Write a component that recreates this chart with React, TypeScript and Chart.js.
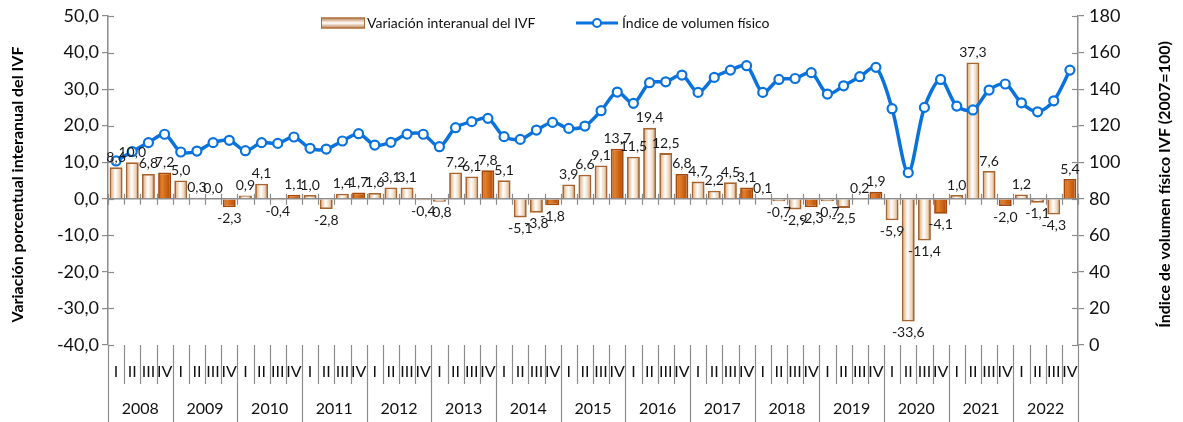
import React, { useEffect, useRef } from "react";
import { Chart, registerables } from "chart.js";

Chart.register(...registerables);

const years = ["2008", "2009", "2010", "2011", "2012", "2013", "2014", "2015", "2016", "2017", "2018", "2019", "2020", "2021", "2022"];
const quarters = ["I", "II", "III", "IV"];

// Variación interanual del IVF (%)
const variation = [
  8.6, 10.0, 6.8, 7.2,
  5.0, 0.3, 0.0, -2.3,
  0.9, 4.1, -0.4, 1.1,
  1.0, -2.8, 1.4, 1.7,
  1.6, 3.1, 3.1, -0.4,
  -0.8, 7.2, 6.1, 7.8,
  5.1, -5.1, -3.8, -1.8,
  3.9, 6.6, 9.1, 13.7,
  11.5, 19.4, 12.5, 6.8,
  4.7, 2.2, 4.5, 3.1,
  0.1, -0.7, -2.9, -2.3,
  -0.7, -2.5, 0.2, 1.9,
  -5.9, -33.6, -11.4, -4.1,
  1.0, 37.3, 7.6, -2.0,
  1.2, -1.1, -4.3, 5.4,
];

// Índice de volumen físico (2007=100)
const ivf = [
  100.7, 105.8, 110.7, 115.3,
  105.6, 106.1, 110.7, 112.0,
  106.3, 110.7, 110.3, 113.8,
  107.6, 107.2, 111.6, 115.6,
  109.4, 110.9, 115.4, 115.3,
  108.5, 118.9, 122.2, 124.0,
  114.0, 112.5, 117.6, 121.8,
  118.5, 119.8, 128.2, 138.4,
  132.2, 143.5, 144.0, 147.7,
  138.2, 146.4, 150.4, 152.8,
  138.2, 145.3, 145.8, 149.0,
  137.3, 141.8, 146.8, 151.9,
  129.3, 94.3, 130.0, 145.3,
  130.7, 128.6, 139.5, 142.8,
  132.5, 127.6, 133.6, 150.4,
];

const leftTicks = [-40, -30, -20, -10, 0, 10, 20, 30, 40, 50];
const rightTicks = [0, 20, 40, 60, 80, 100, 120, 140, 160, 180];

const barLabel = "Variación interanual del IVF";
const lineLabel = "Índice de volumen físico";
const leftTitle = "Variación porcentual interanual del IVF";
const rightTitle = "Índice de volumen físico IVF (2007=100)";

const categories = years.flatMap((y) => quarters.map((q) => `${q} ${y}`));

const FONT = "Lato, 'Open Sans', sans-serif";
const AXIS = "#8c8c8c";
const BLUE = "#0a72dc";
const BAR_PCT = 0.8;

const fmt = (v: number) => v.toFixed(1).replace(".", ",");

function lightGradient(ctx: CanvasRenderingContext2D, x0: number, x1: number) {
  const g = ctx.createLinearGradient(x0, 0, x1, 0);
  g.addColorStop(0, "#b26c36");
  g.addColorStop(0.18, "#e6c4a2");
  g.addColorStop(0.45, "#ffffff");
  g.addColorStop(0.75, "#eed6bd");
  g.addColorStop(1, "#b26c36");
  return g;
}
function darkGradient(ctx: CanvasRenderingContext2D, x0: number, x1: number) {
  const g = ctx.createLinearGradient(x0, 0, x1, 0);
  g.addColorStop(0, "#b9530c");
  g.addColorStop(0.3, "#e2802c");
  g.addColorStop(0.6, "#cf6616");
  g.addColorStop(1, "#a9490a");
  return g;
}

const barBg = (c: any) => {
  const i = c.dataIndex ?? 0;
  const dark = i % 4 === 3;
  const chart = c.chart;
  const xs = chart?.scales?.x;
  const area = chart?.chartArea;
  if (!xs || !area || c.type !== "data") return dark ? "#c55a11" : "#f0dcc8";
  const cx = xs.getPixelForValue(i);
  const w = ((area.right - area.left) / categories.length) * BAR_PCT;
  return dark ? darkGradient(chart.ctx, cx - w / 2, cx + w / 2) : lightGradient(chart.ctx, cx - w / 2, cx + w / 2);
};

const decor = {
  id: "decor",
  beforeDatasetsDraw(chart: any) {
    const { ctx, chartArea: a, scales } = chart;
    const y0 = scales.y.getPixelForValue(0);
    const step = (a.right - a.left) / categories.length;
    ctx.save();
    ctx.strokeStyle = AXIS;
    ctx.lineWidth = 1.5;
    ctx.beginPath();
    ctx.moveTo(a.left, y0);
    ctx.lineTo(a.right, y0);
    ctx.stroke();
    ctx.lineWidth = 1.2;
    for (let i = 0; i <= categories.length; i++) {
      const x = Math.round(a.left + i * step) + 0.5;
      ctx.beginPath();
      ctx.moveTo(x, y0 - 5);
      ctx.lineTo(x, y0 + 6);
      ctx.stroke();
    }
    ctx.restore();
  },
  afterDatasetsDraw(chart: any) {
    const { ctx } = chart;
    const meta = chart.getDatasetMeta(1);
    ctx.save();
    ctx.font = `14px ${FONT}`;
    ctx.fillStyle = "#1a1a1a";
    ctx.textAlign = "center";
    meta.data.forEach((el: any, i: number) => {
      const v = variation[i];
      if (v >= 0) {
        ctx.textBaseline = "bottom";
        ctx.fillText(fmt(v), el.x, el.y - 3);
      } else {
        ctx.textBaseline = "top";
        ctx.fillText(fmt(v), el.x, el.y + 4);
      }
    });
    ctx.restore();
  },
  afterDraw(chart: any) {
    const { ctx, chartArea: a, scales } = chart;
    const step = (a.right - a.left) / categories.length;
    const H = chart.height;
    ctx.save();
    // inner halves of the crossing tick marks on the value axes
    ctx.strokeStyle = AXIS;
    ctx.lineWidth = 1.2;
    leftTicks.forEach((v) => {
      const y = Math.round(scales.y.getPixelForValue(v)) + 0.5;
      ctx.beginPath();
      ctx.moveTo(a.left, y);
      ctx.lineTo(a.left + 6, y);
      ctx.stroke();
    });
    rightTicks.forEach((v) => {
      const y = Math.round(scales.y1.getPixelForValue(v)) + 0.5;
      ctx.beginPath();
      ctx.moveTo(a.right - 6, y);
      ctx.lineTo(a.right, y);
      ctx.stroke();
    });
    // category separators
    for (let i = 0; i <= categories.length; i++) {
      const x = Math.round(a.left + i * step) + 0.5;
      const yearEdge = i % 4 === 0;
      ctx.beginPath();
      ctx.moveTo(x, a.bottom);
      ctx.lineTo(x, yearEdge ? H : a.bottom + 39);
      ctx.stroke();
    }
    // quarter labels
    ctx.fillStyle = "#111";
    ctx.textAlign = "center";
    ctx.textBaseline = "middle";
    ctx.font = `16px ${FONT}`;
    categories.forEach((_, i) => {
      ctx.fillText(quarters[i % 4], scales.x.getPixelForValue(i), a.bottom + 27);
    });
    // year labels
    ctx.font = `16px ${FONT}`;
    years.forEach((y, k) => {
      const x = (scales.x.getPixelForValue(k * 4) + scales.x.getPixelForValue(k * 4 + 3)) / 2;
      ctx.fillText(y, x, a.bottom + 64);
    });
    // axis titles
    ctx.font = `bold 16px ${FONT}`;
    ctx.fillStyle = "#000";
    const cy = (a.top + a.bottom) / 2 + 4;
    ctx.save();
    ctx.translate(18, cy);
    ctx.rotate(-Math.PI / 2);
    ctx.fillText(leftTitle, 0, 0);
    ctx.restore();
    ctx.save();
    ctx.translate(1165, cy);
    ctx.rotate(-Math.PI / 2);
    ctx.fillText(rightTitle, 0, 0);
    ctx.restore();
    // legend
    const ly = 23;
    const sx = 321, sw = 44, sh = 11;
    const g = ctx.createLinearGradient(0, ly - sh / 2, 0, ly + sh / 2);
    g.addColorStop(0, "#b8743e");
    g.addColorStop(0.5, "#ffffff");
    g.addColorStop(1, "#b8743e");
    ctx.fillStyle = g;
    ctx.fillRect(sx, ly - sh / 2, sw, sh);
    ctx.strokeStyle = "#a86a3a";
    ctx.lineWidth = 1;
    ctx.strokeRect(sx + 0.5, ly - sh / 2 + 0.5, sw - 1, sh - 1);
    ctx.fillStyle = "#111";
    ctx.textAlign = "left";
    ctx.font = `14px ${FONT}`;
    ctx.fillText(barLabel, 367, ly);
    ctx.strokeStyle = BLUE;
    ctx.lineWidth = 3;
    ctx.beginPath();
    ctx.moveTo(576, ly);
    ctx.lineTo(618, ly);
    ctx.stroke();
    ctx.beginPath();
    ctx.arc(597, ly, 4, 0, Math.PI * 2);
    ctx.fillStyle = "#fff";
    ctx.fill();
    ctx.lineWidth = 2;
    ctx.stroke();
    ctx.fillStyle = "#111";
    ctx.fillText(lineLabel, 622, ly);
    ctx.restore();
  },
};

export default function App() {
  const ref = useRef<HTMLCanvasElement | null>(null);
  useEffect(() => {
    if (!ref.current) return;
    const chart = new Chart(ref.current, {
      type: "bar",
      data: {
        labels: categories,
        datasets: [
          {
            type: "line",
            label: lineLabel,
            data: ivf,
            yAxisID: "y1",
            borderColor: BLUE,
            borderWidth: 3.5,
            pointRadius: 4.5,
            pointBackgroundColor: "#ffffff",
            pointBorderColor: BLUE,
            pointBorderWidth: 2.2,
            tension: 0.3,
            order: 0,
          } as any,
          {
            type: "bar",
            label: barLabel,
            data: variation,
            yAxisID: "y",
            backgroundColor: barBg,
            borderColor: (c: any) => ((c.dataIndex ?? 0) % 4 === 3 ? "#a4480c" : "#a8652f"),
            borderWidth: 1.8,
            barPercentage: BAR_PCT,
            categoryPercentage: 1,
            order: 1,
          } as any,
        ],
      },
      options: {
        responsive: false,
        animation: false,
        devicePixelRatio: 1,
        layout: { padding: { top: 16, bottom: 77, left: 0, right: 0 } },
        plugins: { legend: { display: false }, tooltip: { enabled: false } },
        scales: {
          x: { display: false, offset: true },
          y: {
            position: "left",
            min: -40,
            max: 50,
            afterBuildTicks: (s: any) => {
              s.ticks = leftTicks.map((v) => ({ value: v }));
            },
            afterFit: (s: any) => {
              s.width = 108;
            },
            ticks: { callback: (v: any) => fmt(Number(v)), font: { family: FONT, size: 18 }, color: "#111", padding: 3 },
            grid: { drawOnChartArea: false, drawTicks: true, tickLength: 6, color: AXIS, lineWidth: 1.2 },
            border: { color: AXIS, width: 1.5 },
          },
          y1: {
            position: "right",
            min: 0,
            max: 180,
            afterBuildTicks: (s: any) => {
              s.ticks = rightTicks.map((v) => ({ value: v }));
            },
            afterFit: (s: any) => {
              s.width = 105;
            },
            ticks: { callback: (v: any) => String(v), font: { family: FONT, size: 18 }, color: "#111", padding: 5 },
            grid: { drawOnChartArea: false, drawTicks: true, tickLength: 6, color: AXIS, lineWidth: 1.2 },
            border: { color: AXIS, width: 1.5 },
          },
        },
      },
      plugins: [decor],
    });
    return () => chart.destroy();
  }, []);
  return (
    <div style={{ position: "fixed", left: 0, top: 0, width: 1183, height: 422, background: "#fff" }}>
      <canvas ref={ref} width={1183} height={422} style={{ display: "block" }} />
    </div>
  );
}
